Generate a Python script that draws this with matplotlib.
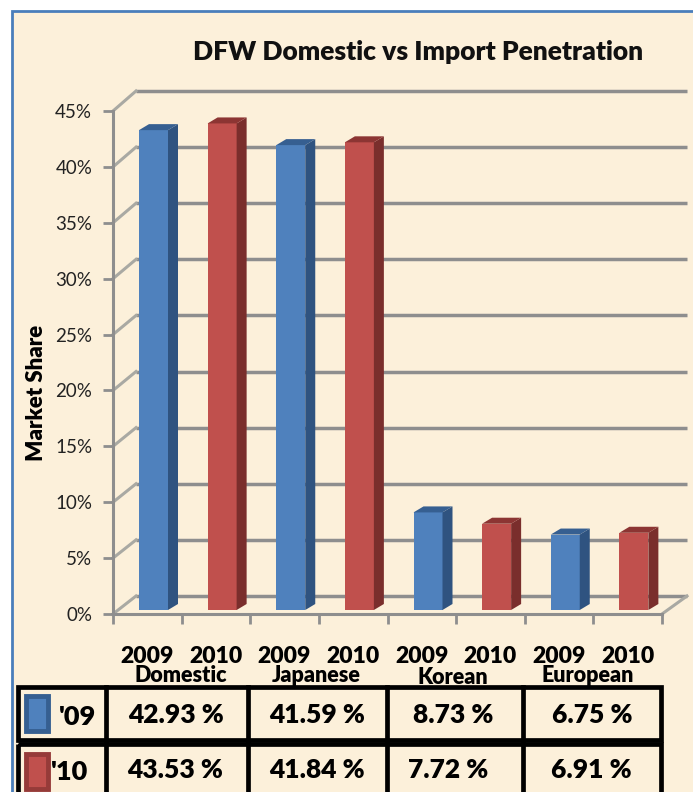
import matplotlib
matplotlib.use("Agg")
import matplotlib.pyplot as plt
from matplotlib.patches import Rectangle, Polygon

categories = ["Domestic", "Japanese", "Korean", "European"]
years = ["2009", "2010"]
share_2009 = [42.93, 41.59, 8.73, 6.75]
share_2010 = [43.53, 41.84, 7.72, 6.91]
y_ticks = [0, 5, 10, 15, 20, 25, 30, 35, 40, 45]

W, H = 693, 792
FONT = "Lato"
HEAVY = 800
BG = "#FCF0DA"
fig = plt.figure(figsize=(W / 100, H / 100), dpi=100, facecolor="white")

# pixel-coordinate overlay for the frame and the table
bg = fig.add_axes([0, 0, 1, 1], zorder=0)
bg.set_xlim(0, W); bg.set_ylim(H, 0); bg.axis("off")
bg.add_patch(Rectangle((12, 11), 700, 800, fc=BG, ec="#4A7EBB", lw=2))

# chart axes: front plane, 0% at y=614 px, 45% at y=111 px, x slots 113..662 px
L, R, T, B = 113, 662, 111, 614
ax = fig.add_axes([L / W, 1 - B / H, (R - L) / W, (B - T) / H], zorder=1)
ax.patch.set_alpha(0)
ax.set_xlim(0, 8); ax.set_ylim(0, 45)
sx = (R - L) / 8; sy = (B - T) / 45
GRID = "#8E8E8E"
for s in ("top", "right"):
    ax.spines[s].set_visible(False)
for s in ("left", "bottom"):
    ax.spines[s].set_color(GRID); ax.spines[s].set_linewidth(2.2)

ax.set_yticks(y_ticks)
ax.set_yticklabels([f"{t}%" for t in y_ticks], fontsize=13.5, family=FONT, color="#222222")
ax.set_xticks(range(9)); ax.set_xticklabels([])
ax.tick_params(axis="both", which="major", color=GRID, width=2, length=7)
ax.tick_params(axis="y", pad=8)
ax.set_xticks([i + 0.5 for i in range(8)], minor=True)
ax.set_xticklabels(years * 4, minor=True, fontsize=16.5, fontweight=HEAVY, family=FONT, color="black")
ax.tick_params(axis="x", which="minor", length=0, pad=23)
ax.set_ylabel("Market Share", fontsize=16, fontweight=HEAVY, family=FONT, labelpad=0)
ax.yaxis.set_label_coords((47 - L) / (R - L), 0.44)

# walls: back-plane offset
bx, by = 23 / sx, 18 / sy
for t in y_ticks:
    yb = t * 505 / 503 + by
    ax.plot([bx, 8 + 25 / sx], [yb, yb], color=GRID, lw=2.5, clip_on=False, zorder=1, solid_capstyle="butt")
    ax.plot([0, bx], [t, yb], color="#A9A9A3", lw=2.2, clip_on=False, zorder=1)
ax.plot([8, 8 + 25 / sx], [0, by], color="#A9A9A3", lw=2.2, clip_on=False, zorder=1)

# bars with a fake 3-D depth
bar_w = 29 / sx
dx, dy = 10 / sx, 6 / sy
lift = 4 / sy
shift = (139 - L) / sx
colors = [("#4F81BD", "#2F5380", "#365F91"), ("#C0504D", "#7A2E2C", "#8C3533")]
vals = [v for pair in zip(share_2009, share_2010) for v in pair]
for i, v in enumerate(vals):
    front, side, top = colors[i % 2]
    x0 = i + shift; x1 = x0 + bar_w; y0 = lift; y1 = lift + v
    ax.bar(x0, v, width=bar_w, bottom=lift, align="edge", color=front, zorder=3)
    ax.add_patch(Polygon([(x1, y0), (x1 + dx, y0 + dy), (x1 + dx, y1 + dy), (x1, y1)], fc=side, zorder=3, clip_on=False))
    ax.add_patch(Polygon([(x0, y1), (x0 + dx, y1 + dy), (x1 + dx, y1 + dy), (x1, y1)], fc=top, zorder=3, clip_on=False))

# title and group labels
over = fig.add_axes([0, 0, 1, 1], zorder=2)
over.set_xlim(0, W); over.set_ylim(H, 0); over.axis("off"); over.patch.set_alpha(0)
over.text(418, 52, "DFW Domestic vs Import Penetration", fontsize=19, fontweight=HEAVY,
          family=FONT, ha="center", va="center", color="#111111")
for cat, xc, yc in zip(categories, [181, 316, 453, 588], [676, 675, 677, 675]):
    over.text(xc, yc, cat, fontsize=15.5, fontweight=HEAVY, family=FONT, ha="center", va="center")

# table
col_edges = [18, 106, 248, 387, 523, 661]
rows = [(687, 740, share_2009, "'09", [176, 317, 453, 592], 78, 717),
        (744, 800, share_2010, "'10", [175, 317, 448, 591], 70, 772)]
for top, bot, values, lab, xs, lx, ty in rows:
    over.add_patch(Rectangle((col_edges[0], top), col_edges[-1] - col_edges[0], bot - top,
                             fc="none", ec="black", lw=3.4, clip_on=True))
    for e in col_edges[1:-1]:
        over.plot([e, e], [top, bot], color="black", lw=3.4)
    over.text(lx, ty, lab, fontsize=19.5, fontweight=HEAVY, family=FONT, ha="center", va="center")
    for xc, v in zip(xs, values):
        over.text(xc, ty - 2, f"{v:.2f} %", fontsize=19, fontweight=HEAVY, family=FONT, ha="center", va="center")

for (x, y, w, h), fc, ec in [((26, 696, 22, 35), "#4F81BD", "#365F91"), ((26, 754, 22, 35), "#C0504D", "#963B39")]:
    over.add_patch(Rectangle((x, y), w, h, fc=fc, ec=ec, lw=3.5))

fig.savefig("out.png", dpi=100)
